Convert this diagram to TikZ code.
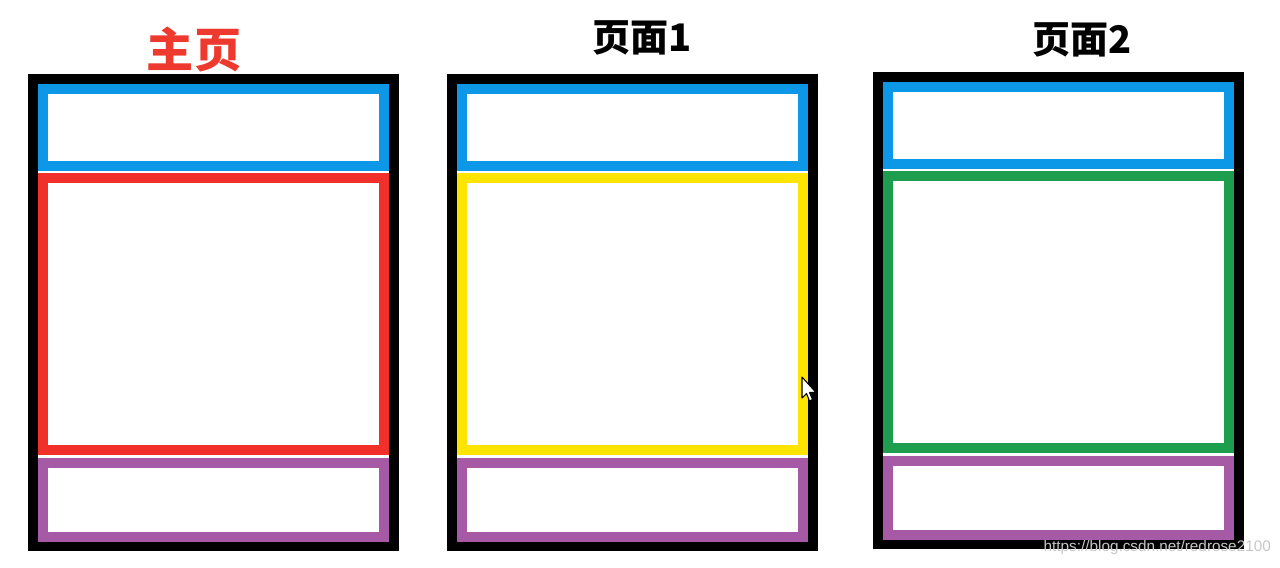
\documentclass[tikz,border=0pt]{standalone}
\usepackage{fontspec}
\newfontfamily\cjk{Noto Sans CJK SC}
\newfontfamily\wmfont{Liberation Sans}
\usetikzlibrary{positioning}

\definecolor{barblue}{HTML}{0C98E6}
\definecolor{bodyred}{HTML}{F2302A}
\definecolor{bodyyellow}{HTML}{FFE400}
\definecolor{bodygreen}{HTML}{1D9E4F}
\definecolor{footpurple}{HTML}{A65AA6}
\definecolor{titlered}{HTML}{EE3A2E}

\begin{document}
\begin{tikzpicture}[x=0.01cm, y=-0.01cm,
    pagebox/.style={rectangle, draw, line width=0.1cm, inner sep=0pt, outer sep=0pt},
    pagetitle/.style={inner sep=0pt, font=\cjk\bfseries}]
    \useasboundingbox (0,0) rectangle (1280,567);

    % Page frames - header, body and footer boxes
    \foreach \k/\dx/\dy/\col in {1/0/0/bodyred, 2/419/0/bodyyellow, 3/845/-2/bodygreen} {
        \node[pagebox, draw=black, minimum width=3.61cm, minimum height=4.67cm] (frame\k) at (213.5+\dx, 312.5+\dy) {};
        \node[pagebox, draw=barblue, minimum width=3.41cm, minimum height=0.77cm] (head\k) at (213.5+\dx, 127.5+\dy) {};
        \node[pagebox, draw=\col, minimum width=3.41cm, minimum height=2.72cm] (body\k) at (213.5+\dx, 314+\dy) {};
        \node[pagebox, draw=footpurple, minimum width=3.41cm, minimum height=0.74cm] (foot\k) at (213.5+\dx, 500+\dy) {};
    }

    % Titles
    \node[pagetitle, text=titlered, font=\cjk\bfseries\fontsize{13.4pt}{14pt}\selectfont] (title1) at (194, 50) {主页};
    \node[pagetitle, font=\cjk\bfseries\fontsize{10.8pt}{12pt}\selectfont] (title2) at (642, 38) {页面1};
    \node[pagetitle, font=\cjk\bfseries\fontsize{10.8pt}{12pt}\selectfont] (title3) at (1082, 40) {页面2};

    % Mouse pointer
    \draw[fill=white, line width=0.3pt, line join=round]
        (802,377) -- (802,398) -- (806.5,393.5) -- (809.5,401) -- (812.5,399.5) -- (809.5,392.5) -- (816,392.5) -- cycle;

    % Watermark
    \node[anchor=west, inner sep=0pt, text=gray!45, font=\wmfont\fontsize{4.35pt}{5pt}\selectfont] (mark) at (1043, 548) {https://blog.csdn.net/redrose2100};
\end{tikzpicture}
\end{document}
